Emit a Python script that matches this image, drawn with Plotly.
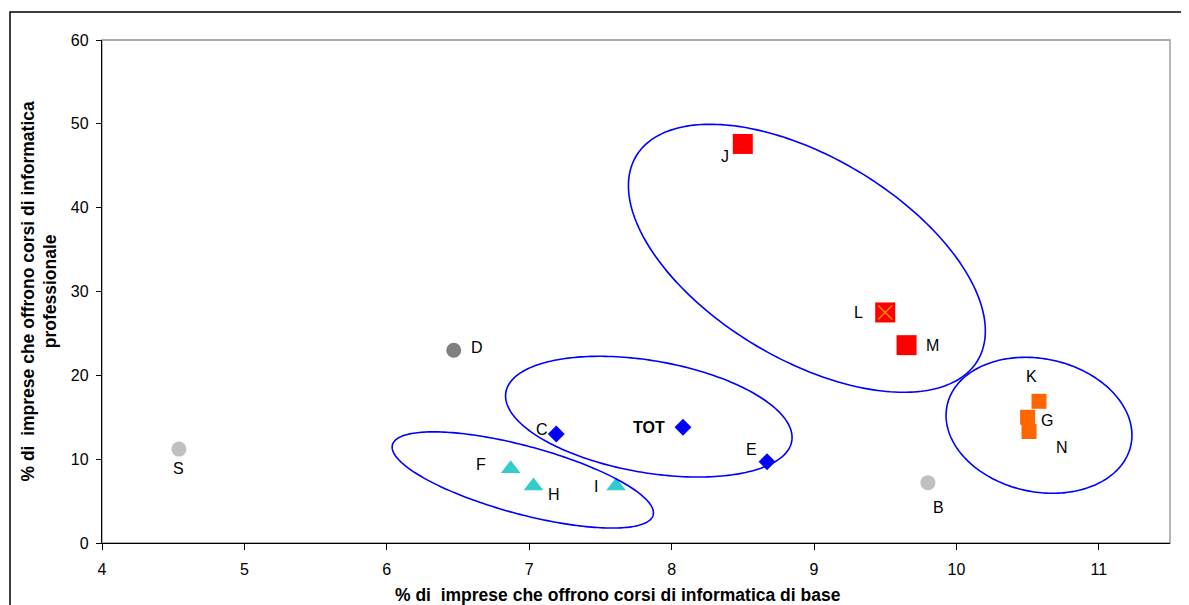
import numpy as np
import plotly.graph_objects as go

# ---------------- data ----------------
sectors = ["S", "D", "B", "C", "TOT", "E", "F", "H", "I", "J", "L", "M", "K", "G", "N"]
pct_base = [4.54, 6.47, 9.80, 7.19, 8.08, 8.67, 6.87, 7.03, 7.61, 8.50, 9.50, 9.65, 10.58, 10.50, 10.51]
pct_prof = [11.2, 23.0, 7.2, 13.0, 13.8, 9.7, 8.86, 6.8, 6.8, 47.6, 27.5, 23.6, 16.9, 15.0, 13.3]
groups = ["lightgrey", "darkgrey", "lightgrey", "blue", "blue", "blue", "cyan", "cyan", "cyan",
          "red", "red", "red", "orange", "orange", "orange"]
x_ticks = [4, 5, 6, 7, 8, 9, 10, 11]
y_ticks = [0, 10, 20, 30, 40, 50, 60]
x_title = "% di  imprese che offrono corsi di informatica di base"
y_title = "% di  imprese che offrono corsi di informatica<br>professionale"

# ---------------- layout geometry / styles ----------------
# page body has an 8px default margin, so the figure is 8px smaller
W, H = 1181, 597
ML, MR, MT, MB = 94, 19, 32, 62
XR, YR = [4, 11.5], [0, 60]
PW, PH = W - ML - MR, H - MT - MB
SX, SY = PW / (XR[1] - XR[0]), PH / (YR[1] - YR[0])
FONT = "Liberation Sans, Arial, sans-serif"

styles = {
    "lightgrey": dict(symbol="circle", size=15, color="#C0C0C0"),
    "darkgrey": dict(symbol="circle", size=15, color="#808080"),
    "blue": dict(symbol="diamond", size=13, color="#0000FF"),
    "cyan": dict(symbol="triangle-up", size=17, color="#33CCCC"),
    "red": dict(symbol="square", size=20, color="#FF0000"),
    "orange": dict(symbol="square", size=15, color="#FF6600"),
}

# label offsets in pixels (dx right, dy down)
label_offsets = {
    "S": (0, 19), "D": (23, -3), "B": (11, 25), "C": (-14, -5), "TOT": (-34, 0),
    "E": (-16, -12), "F": (-30, -4), "H": (21, 9), "I": (-20, 1), "J": (-18, 13),
    "L": (-27, 0), "M": (26, 0), "K": (-7, -25), "G": (19, 3), "N": (33, 16),
}

# ellipses: centre (data), semi-axes (px), rotation (deg, clockwise on screen)
ell_cx = [8.95, 7.84, 6.955, 10.58]
ell_cy = [33.96, 15.07, 7.52, 14.04]
ell_a = [199, 145, 135, 94]
ell_b = [101, 56, 34, 66.5]
ell_rot = [30.9, 9.7, 15.1, 12.3]

fig = go.Figure()

for g, st in styles.items():
    idx = [i for i, gg in enumerate(groups) if gg == g]
    fig.add_trace(go.Scatter(
        x=[pct_base[i] for i in idx], y=[pct_prof[i] for i in idx],
        mode="markers", name=g, showlegend=False, cliponaxis=False,
        marker=dict(symbol=st["symbol"], size=st["size"], color=st["color"], line=dict(width=0)),
    ))

# orange cross over L
iL = sectors.index("L")
fig.add_trace(go.Scatter(
    x=[pct_base[iL]], y=[pct_prof[iL]], mode="markers", showlegend=False,
    marker=dict(symbol="x-thin", size=14, line=dict(color="#FF8C00", width=1.5)),
))

shapes = []
# outer chart border
shapes.append(dict(type="rect", xref="paper", yref="paper",
                   x0=(2 - ML) / PW, x1=1.2, y0=-0.3, y1=(H - MB - 4) / PH,
                   line=dict(color="black", width=1.5), layer="below"))
# plot area frame
shapes.append(dict(type="rect", xref="paper", yref="paper", x0=0, x1=1, y0=0, y1=1,
                   line=dict(color="#909090", width=1.3), layer="below"))

t = np.linspace(0, 2 * np.pi, 240)
for cx, cy, a, b, rot in zip(ell_cx, ell_cy, ell_a, ell_b, ell_rot):
    th = np.radians(rot)
    dx = a * np.cos(t) * np.cos(th) - b * np.sin(t) * np.sin(th)
    dy = a * np.cos(t) * np.sin(th) + b * np.sin(t) * np.cos(th)
    px = cx + dx / SX
    py = cy - dy / SY
    path = "M " + " L ".join(f"{x:.5f},{y:.5f}" for x, y in zip(px, py)) + " Z"
    shapes.append(dict(type="path", xref="x", yref="y", path=path,
                       line=dict(color="#0000FF", width=1.6), fillcolor="rgba(0,0,0,0)",
                       layer="above"))

annotations = []
for s, xv, yv in zip(sectors, pct_base, pct_prof):
    dx, dy = label_offsets[s]
    txt = f"<b>{s}</b>" if s == "TOT" else s
    annotations.append(dict(x=xv, y=yv, xref="x", yref="y", text=txt, showarrow=False,
                            xshift=dx, yshift=-dy, xanchor="center", yanchor="middle",
                            font=dict(family=FONT, size=16, color="black")))

annotations.append(dict(x=(610 - ML) / PW, y=-(587 - (H - MB)) / PH, xref="paper", yref="paper",
                        text=f"<b>{x_title}</b>", showarrow=False, xanchor="center", yanchor="middle",
                        font=dict(family=FONT, size=17.5, color="black")))
annotations.append(dict(x=-(ML - 31) / PW, y=0.5, xref="paper", yref="paper",
                        text=f"<b>{y_title}</b>", showarrow=False, textangle=-90,
                        xanchor="center", yanchor="middle",
                        font=dict(family=FONT, size=17.5, color="black")))

fig.update_layout(
    width=W, height=H,
    margin=dict(l=ML, r=MR, t=MT, b=MB, pad=0),
    paper_bgcolor="white", plot_bgcolor="white",
    font=dict(family=FONT, size=16, color="black"),
    shapes=shapes, annotations=annotations,
    xaxis=dict(range=XR, tickvals=x_ticks, showgrid=False, zeroline=False,
               showline=True, linecolor="black", linewidth=1.3,
               ticks="outside", ticklen=6, tickwidth=1.3, tickcolor="black",
               ticklabelstandoff=6, tickfont=dict(family=FONT, size=16, color="black")),
    yaxis=dict(range=YR, tickvals=y_ticks, showgrid=False, zeroline=False,
               showline=True, linecolor="black", linewidth=1.3,
               ticks="outside", ticklen=5, tickwidth=1.3, tickcolor="black",
               ticklabelstandoff=4, tickfont=dict(family=FONT, size=16, color="black")),
)

fig.write_html("out.html")
